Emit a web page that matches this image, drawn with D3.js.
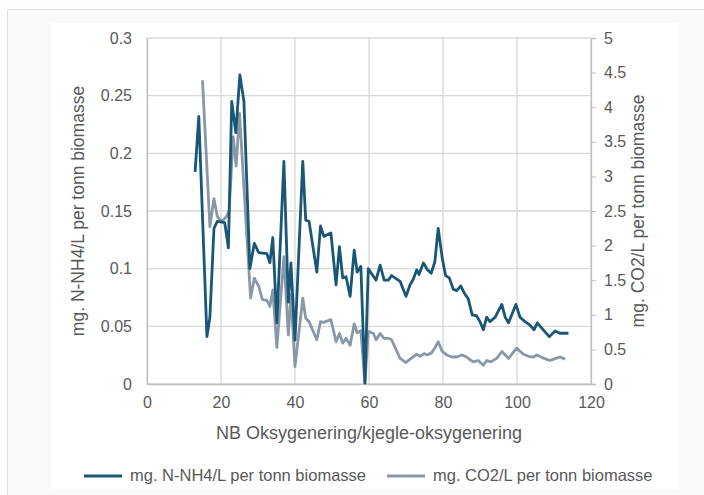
<!DOCTYPE html>
<html lang="no">
<head>
<meta charset="UTF-8">
<title>N-NH4 og CO2</title>
<script src="https://cdn.jsdelivr.net/npm/d3@7"></script>
<style>
    * { margin: 0; padding: 0; }
    body { background: #fdfdfd; font-family: "Liberation Sans", Arial, sans-serif; }
</style>
</head>
<body>
<svg id="chart" width="704" height="495"></svg>
<script>
// N-NH4 (left axis)
var xNH4 = [13, 14, 16.2, 17, 18.1, 19, 21, 22, 22.9, 24,
            25.1, 26.2, 27.8, 29, 30.2, 32.4, 33.2, 34, 35.1, 37,
            38.2, 38.9, 40, 42.1, 42.9, 43.8, 45.9, 46.9, 47.8, 49.7,
            51.1, 52, 52.9, 53.8, 54.9, 56, 56.8, 57.8, 58.9, 59.8,
            61.9, 63, 64.1, 65.2, 66.1, 68.4, 70, 71.1, 72, 72.9,
            73.5, 74.7, 75.8, 76.8, 77.8, 78.7, 79.8, 80.7, 81.7, 82.8,
            83.7, 84.8, 85.9, 86.8, 87.9, 89.1, 90, 90.9, 91.8, 92.7,
            94.1, 95.9, 96.8, 97.7, 99.7, 100.8, 102.2, 103.5, 104.6, 105.5,
            107.1, 108.7, 110.3, 111.6, 113.9];
var yNH4 = [0.184, 0.232, 0.041, 0.058, 0.135, 0.141, 0.140, 0.118, 0.245, 0.218,
            0.268, 0.245, 0.100, 0.122, 0.114, 0.113, 0.105, 0.127, 0.053, 0.193,
            0.071, 0.105, 0.038, 0.193, 0.142, 0.141, 0.097, 0.137, 0.128, 0.131,
            0.086, 0.119, 0.092, 0.093, 0.076, 0.116, 0.097, 0.102, 0.001, 0.100,
            0.090, 0.103, 0.090, 0.090, 0.094, 0.089, 0.076, 0.086, 0.091, 0.099,
            0.095, 0.105, 0.099, 0.096, 0.106, 0.135, 0.109, 0.094, 0.092, 0.082,
            0.081, 0.085, 0.078, 0.074, 0.060, 0.059, 0.054, 0.047, 0.058, 0.054,
            0.058, 0.069, 0.058, 0.053, 0.069, 0.058, 0.054, 0.051, 0.047, 0.053,
            0.047, 0.041, 0.046, 0.044, 0.044];

// CO2 (right axis)
var xCO2 = [15, 17, 18.1, 19, 20.2, 21.5, 22.2, 23.3, 24.1, 25,
            28, 29, 30.2, 31.2, 32.4, 33.2, 34, 35.1, 37, 38.2,
            38.9, 40, 42.1, 42.9, 43.8, 45.9, 46.9, 47.8, 49.7, 51.1,
            52, 52.9, 53.8, 54.9, 56, 56.8, 57.8, 58.9, 59.8, 61.2,
            61.9, 63, 64.1, 65.2, 66.1, 68.4, 70, 71.1, 72.9, 73.8,
            74.9, 75.7, 76.9, 77.8, 78.7, 79.8, 81, 82.4, 83.7, 85.1,
            86.4, 87.3, 88.2, 89.5, 90.9, 91.8, 92.9, 94.5, 95.9, 97.7,
            99.9, 101.7, 103.1, 104.4, 105.4, 107.3, 108.9, 110.5, 111.6, 113];
var yCO2 = [4.39, 2.27, 2.68, 2.42, 2.35, 2.42, 2.51, 3.57, 3.15, 3.91,
            1.24, 1.53, 1.41, 1.22, 1.21, 1.12, 1.36, 0.53, 1.84, 0.71,
            1.29, 0.25, 1.24, 0.95, 0.90, 0.64, 0.90, 0.89, 0.93, 0.61,
            0.73, 0.59, 0.66, 0.56, 0.87, 0.74, 0.77, 0.01, 0.76, 0.73,
            0.64, 0.73, 0.66, 0.66, 0.64, 0.37, 0.31, 0.36, 0.43, 0.40,
            0.44, 0.42, 0.45, 0.52, 0.61, 0.47, 0.42, 0.39, 0.39, 0.42,
            0.39, 0.35, 0.32, 0.34, 0.27, 0.34, 0.32, 0.37, 0.47, 0.37,
            0.52, 0.43, 0.40, 0.39, 0.42, 0.37, 0.34, 0.37, 0.39, 0.36];

var xTicks = [0, 20, 40, 60, 80, 100, 120];
var leftTicks = [0, 0.05, 0.1, 0.15, 0.2, 0.25, 0.3];
var rightTicks = [0, 0.5, 1, 1.5, 2, 2.5, 3, 3.5, 4, 4.5, 5];
var seriesNames = ["mg. N-NH4/L per tonn biomasse", "mg. CO2/L per tonn biomasse"];
var colors = ["#1a5675", "#8898a8"];

(function () {
    var svg = d3.select("#chart");
    var textCol = "#595959";

    // card + inner panel
    svg.append("rect").attr("x", 7.5).attr("y", 9.5).attr("width", 720).attr("height", 500)
        .attr("fill", "#fafafa").attr("stroke", "#e2e2e2");
    svg.append("rect").attr("x", 51).attr("y", 23).attr("width", 627).attr("height", 466)
        .attr("fill", "#ffffff");

    var pL = 147, pR = 591, pT = 38, pB = 384;
    var x = d3.scaleLinear().domain([0, 120]).range([pL, pR]);
    var yL = d3.scaleLinear().domain([0, 0.3]).range([pB, pT]);
    var yR = d3.scaleLinear().domain([0, 5]).range([pB, pT]);

    // grid
    var grid = svg.append("g");
    grid.selectAll(".h").data(leftTicks).enter().append("line")
        .attr("x1", pL).attr("x2", pR)
        .attr("y1", function (d) { return yL(d); }).attr("y2", function (d) { return yL(d); })
        .attr("stroke", "#d9d9d9").attr("stroke-width", 1.3);
    grid.selectAll(".v").data(xTicks).enter().append("line")
        .attr("x1", function (d) { return x(d); }).attr("x2", function (d) { return x(d); })
        .attr("y1", pT).attr("y2", pB)
        .attr("stroke", "#d9d9d9").attr("stroke-width", 1.3);

    // axes
    var fmt = d3.format("~g");
    var axB = svg.append("g").attr("transform", "translate(0," + pB + ")")
        .call(d3.axisBottom(x).tickValues(xTicks).tickSize(0).tickPadding(13).tickFormat(fmt));
    var axL = svg.append("g").attr("transform", "translate(" + pL + ",0)")
        .call(d3.axisLeft(yL).tickValues(leftTicks).tickSize(0).tickPadding(15).tickFormat(fmt));
    var axR = svg.append("g").attr("transform", "translate(" + pR + ",0)")
        .call(d3.axisRight(yR).tickValues(rightTicks).tickSize(5).tickPadding(8).tickFormat(fmt));

    [axB, axL, axR].forEach(function (a) {
        a.selectAll(".domain").attr("stroke", "#bfbfbf").attr("stroke-width", 1.3);
        a.selectAll("line").attr("stroke", "#bfbfbf");
        a.selectAll("text").attr("fill", textCol).style("font-size", "16px")
            .style("font-family", "'Liberation Sans', Arial, sans-serif");
    });

    // lines
    var lineL = d3.line().x(function (d) { return x(d[0]); }).y(function (d) { return yL(d[1]); });
    var lineR = d3.line().x(function (d) { return x(d[0]); }).y(function (d) { return yR(d[1]); });

    svg.append("path").datum(d3.zip(xCO2, yCO2)).attr("d", lineR)
        .attr("fill", "none").attr("stroke", colors[1]).attr("stroke-width", 2.8)
        .attr("stroke-linejoin", "round");
    svg.append("path").datum(d3.zip(xNH4, yNH4)).attr("d", lineL)
        .attr("fill", "none").attr("stroke", colors[0]).attr("stroke-width", 2.8)
        .attr("stroke-linejoin", "round");

    // axis titles
    svg.append("text").attr("x", (pL + pR) / 2).attr("y", 439)
        .attr("text-anchor", "middle").attr("fill", textCol).style("font-size", "18px")
        .text("NB Oksygenering/kjegle-oksygenering");
    svg.append("text").attr("transform", "translate(84," + ((pT + pB) / 2) + ") rotate(-90)")
        .attr("text-anchor", "middle").attr("fill", textCol).style("font-size", "17.5px")
        .text(seriesNames[0]);
    svg.append("text").attr("transform", "translate(644," + ((pT + pB) / 2) + ") rotate(-90)")
        .attr("text-anchor", "middle").attr("fill", textCol).style("font-size", "17.5px")
        .text(seriesNames[1]);

    // legend
    var legX = [84, 387];
    seriesNames.forEach(function (name, i) {
        svg.append("line").attr("x1", legX[i]).attr("x2", legX[i] + 38)
            .attr("y1", 476).attr("y2", 476)
            .attr("stroke", colors[i]).attr("stroke-width", 3);
        svg.append("text").attr("x", legX[i] + 46).attr("y", 481)
            .attr("fill", textCol).style("font-size", "16.5px").text(name);
    });
})();
</script>
</body>
</html>
